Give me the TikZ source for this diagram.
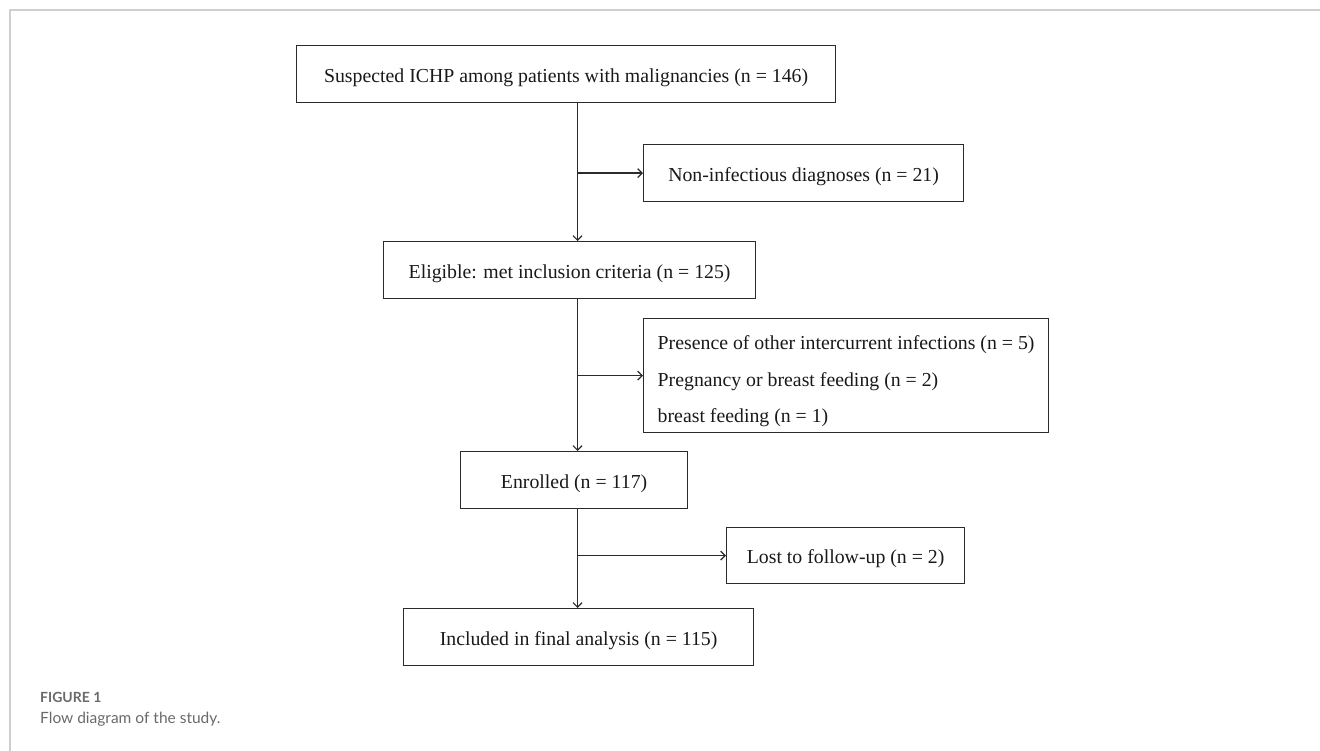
\documentclass[tikz,border=0pt]{standalone}
\usepackage{fontspec}
\setmainfont{Liberation Serif}
\newfontfamily\capfont{Lato}
\usepackage{xcolor}
\usetikzlibrary{positioning,arrows.meta}
\definecolor{linecol}{HTML}{2B2B2B}
\definecolor{framecol}{HTML}{CFCFCF}
\definecolor{capcol}{HTML}{6A6A6A}

\begin{document}
\begin{tikzpicture}[x=1pt,y=-1pt,
   box/.style={draw=linecol,line width=1.2pt,minimum height=57pt,inner sep=0pt,
               text height=16pt,text depth=0pt,
               font=\fontsize{19.8}{23}\selectfont,text=black!90},
   xbox/.style={box,anchor=north west},
   arr/.style={draw=linecol,line width=1.2pt,-{Straight Barb[length=4.5pt,width=9pt]}},
]
\useasboundingbox (0,0) rectangle (1320,751);

% frame of the page
\draw[framecol,line width=1.4pt] (1320,10) -- (10,10) -- (10,751);

% main column
\node[xbox,minimum width=539pt] (susp) at (296,45)
   {Suspected ICHP among patients with malignancies (n = 146)};
\node[xbox,minimum width=372pt] (elig) at (383,241)
   {Eligible: met inclusion criteria (n = 125)};
\node[xbox,minimum width=227pt] (enrol) at (460,451) {Enrolled (n = 117)};
\node[xbox,minimum width=350pt] (final) at (403,608)
   {Included in final analysis (n = 115)};

% exclusions
\node[xbox,minimum width=320pt] (exnon) at (643,144) {Non-infectious diagnoses (n = 21)};
\node[xbox,minimum width=405pt,minimum height=114pt,align=left,
      text height={},text depth={},
      font=\fontsize{19.8}{36.5}\selectfont] (exoth) at (643,318)
   {\rule{0pt}{31pt}Presence of other intercurrent infections (n = 5)\\
    Pregnancy or breast feeding (n = 2)\\
    breast feeding (n = 1)\rule[-10pt]{0pt}{10pt}};
\node[xbox,minimum width=238pt,minimum height=56pt] (exlost) at (726,527) {Lost to follow-up (n = 2)};

% spine and branches
\coordinate (sp) at (577.5,0);
\draw[arr] (susp.south -| sp) -- (elig.north -| sp);
\draw[arr] (elig.south -| sp) -- (enrol.north -| sp);
\draw[arr] (enrol.south -| sp) -- (final.north -| sp);
\draw[arr] (exnon.west -| sp) -- (exnon.west);
\draw[arr] (exoth.west -| sp) -- (exoth.west);
\draw[arr] (exlost.west -| sp) -- (exlost.west);

% caption
\node[anchor=base west,inner sep=0pt,text=capcol,font=\capfont\bfseries\fontsize{14}{16}\selectfont]
   (fig) at (40,702) {FIGURE 1};
\node[anchor=base west,inner sep=0pt,text=capcol,font=\capfont\fontsize{15.5}{18}\selectfont]
   (cap) at (40,723) {Flow diagram of the study.};
\end{tikzpicture}
\end{document}
